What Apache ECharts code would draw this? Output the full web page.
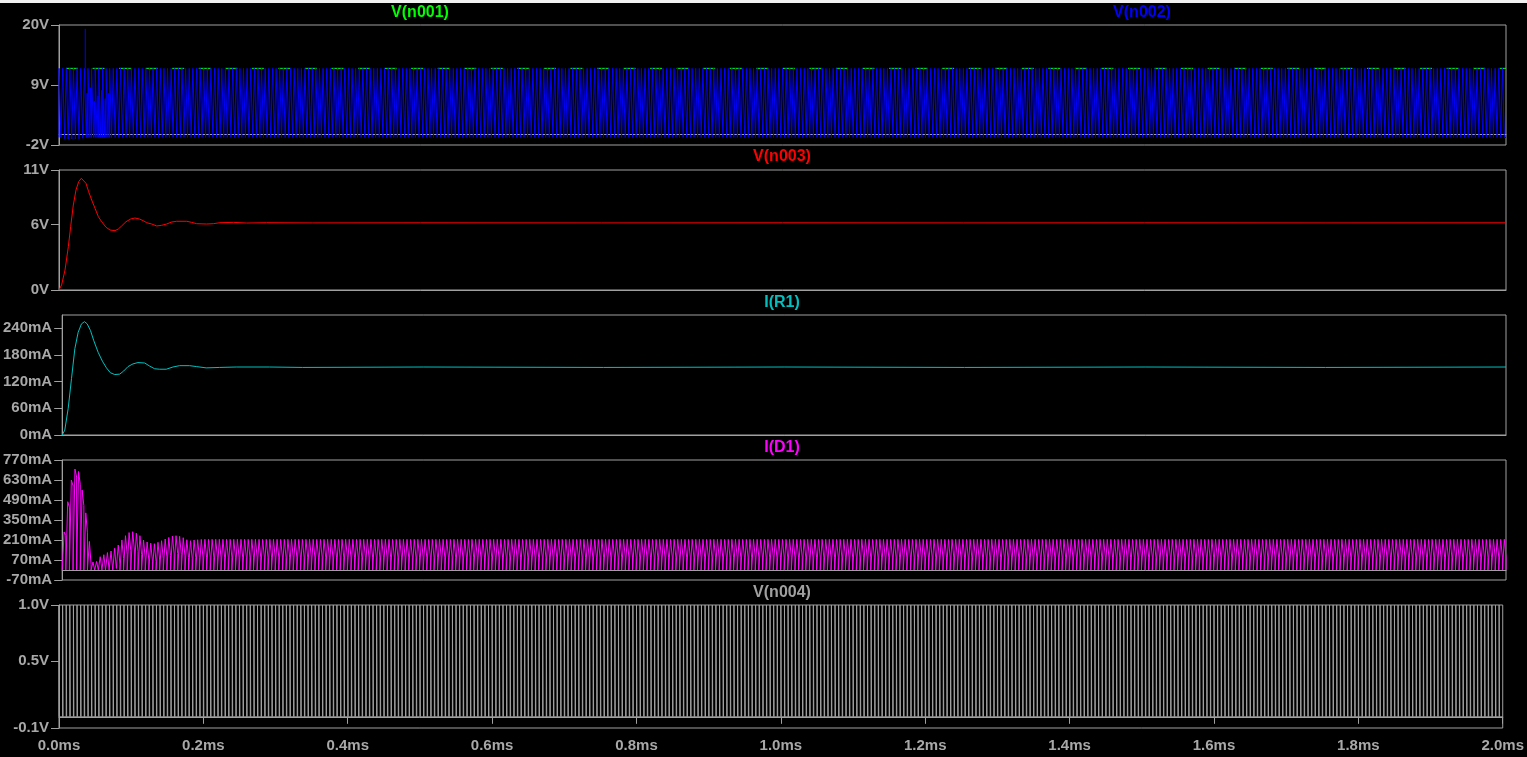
<!DOCTYPE html>
<html><head><meta charset="utf-8">
<script src="https://cdn.jsdelivr.net/npm/echarts@6/dist/echarts.min.js"></script>
<style>html,body{margin:0;padding:0;background:#000;overflow:hidden}#chart{width:1527px;height:757px}</style>
</head><body><div id="chart"></div>
<script>
// ---------- data ----------
// pane titles
const paneTitles = ['V(n001)', 'V(n002)', 'V(n003)', 'I(R1)', 'I(D1)', 'V(n004)'];
// x-axis (time, ms)
const timeMinMs = 0, timeMaxMs = 2.0, timeStepMs = 0.2;
// y-axis ranges and tick values
const yMins = [-2, 0, 0, -70, -0.1];
const yMaxs = [20, 11, 270, 770, 1.0];
const yTickValues = [
  [-2, 9, 20],
  [0, 6, 11],
  [0, 60, 120, 180, 240],
  [-70, 70, 210, 350, 490, 630, 770],
  [-0.1, 0.5, 1.0]
];
// switching clock (200 kHz, 400 cycles in 2 ms)
const switchPeriodMs = 0.005;
const switchCycles = 400;
const switchOnFraction = 0.53;
const gatePulseFraction = 0.12;
// V(n001): input supply level
const n001Level = 12.05;
// V(n002): switch node levels
const n002High = 12.05;
const n002Low = -0.62;
const n002LowStart = [-0.62, -0.8, -0.9, -0.9, -0.9, -0.85, -0.75, -0.65];
const n002IdleStart = [null, null, null, null, null, null, null, 7.5, 8.5, 6.0, 7.0, 8.0, 6.5, 7.5];
const n002SpikeT = 0.0363, n002SpikeV = 19.3;
// V(n003): output voltage
const tN003 = [0,0.0036,0.0083,0.0129,0.0161,0.0198,0.0235,0.0272,0.0309,0.0336,0.0373,0.041,0.0452,0.0498,0.0544,0.059,0.065,0.0705,0.0774,0.082,0.0866,0.0926,0.0991,0.105,0.111,0.1166,0.1212,0.1281,0.135,0.1419,0.1488,0.1557,0.1626,0.1765,0.1834,0.1903,0.2041,0.2133,0.2225,0.241,0.2594,0.287,0.35,0.5,0.75,1.0,1.25,1.5,1.75,2.0];
const vN003 = [0,0.46,1.83,3.97,5.80,7.79,9.17,9.93,10.24,10.15,9.78,9.01,8.25,7.49,6.72,6.26,5.75,5.50,5.44,5.59,5.87,6.26,6.51,6.60,6.51,6.35,6.17,6.05,5.87,5.93,6.05,6.23,6.30,6.30,6.20,6.08,6.05,6.08,6.17,6.20,6.14,6.17,6.15,6.16,6.15,6.16,6.15,6.16,6.15,6.16];
// I(R1): load current (mA)
const tR1 = [0,0.0036,0.0083,0.0129,0.0175,0.0221,0.0267,0.0309,0.0346,0.0392,0.0438,0.0498,0.0557,0.0613,0.0668,0.0728,0.0797,0.0852,0.0912,0.0981,0.105,0.1143,0.1212,0.1281,0.135,0.1442,0.1534,0.1626,0.1765,0.1857,0.1995,0.2179,0.241,0.287,0.3331,0.5,0.75,1.0,1.25,1.5,1.75,2.0];
const iR1 = [0,11,60,127,194,231,250,255,250,235,212,186,166,151,140,136,137,144,154,160,163,162,155,149,148,148,153,156,156,154,151,152,153,153,152,153,152,153,152,153,152,153];
// I(D1): diode current per switching cycle (mA), first cycles then steady
const d1PeakStart = [266,478,630,707,690,560,400,200,56,60,93,107,122,133,152,175,210,240,262,268,258,240,210,196,188,184,194,205,217,228,238,240,236,226,212,205,210,212,214,215,215];
const d1ValleyStart = [240,440,590,650,600,450,260,40,0,0,0,0,0,0,10,40,80,110,135,140,130,110,85,70,62,60,70,80,92,102,112,115,110,100,88,82,86,88,90,90,90];
const d1PeakSteady = 215, d1ValleySteady = 90;
// V(n004): gate pulse levels
const n004Low = 0, n004High = 1.0;

// ---------- build series data ----------
const n001Data = [[timeMinMs, n001Level], [timeMaxMs, n001Level]];
const n002Data = [], d1Data = [], n004Data = [];
for (let k = 0; k < switchCycles; k++) {
  const t0 = k * switchPeriodMs;
  const t1 = t0 + switchPeriodMs;
  const tOn = t0 + switchOnFraction * switchPeriodMs;
  const low = k < n002LowStart.length ? n002LowStart[k] : n002Low;
  n002Data.push([t0, low], [t0, n002High], [tOn, n002High], [tOn, low]);
  const idle = k < n002IdleStart.length ? n002IdleStart[k] : null;
  if (idle !== null) {
    const tI = tOn + 0.5 * (t1 - tOn);
    n002Data.push([tI, low], [tI, idle], [t1, idle], [t1, low]);
  }
  const pk = k < d1PeakStart.length ? d1PeakStart[k] : d1PeakSteady;
  const vl = k < d1ValleyStart.length ? d1ValleyStart[k] : d1ValleySteady;
  d1Data.push([t0, 0], [tOn, 0], [tOn, pk], [t1, vl], [t1, 0]);
  const tg = t0 + gatePulseFraction * switchPeriodMs;
  n004Data.push([t0, n004Low], [t0, n004High], [tg, n004High], [tg, n004Low]);
}
n002Data.push([timeMaxMs, n002Low]);
n004Data.push([timeMaxMs, n004Low]);
const n002Spike = [[n002SpikeT, n002High], [n002SpikeT, n002SpikeV]];
const n003Data = tN003.map((t, i) => [t, vN003[i]]);
const r1Data = tR1.map((t, i) => [t, iR1[i]]);

// ---------- chart ----------
const FRAME = '#a0a0a0';
const LABEL = '#a8a8a8';
const FONT = '"Liberation Sans", Arial, sans-serif';
const gridBoxes = [
  { top: 25, height: 120 },
  { top: 170, height: 120 },
  { top: 315, height: 120 },
  { top: 460, height: 120 },
  { top: 605, height: 123 }
];
const labelFmt = [
  v => Math.round(v) + 'V',
  v => Math.round(v) + 'V',
  v => Math.round(v) + 'mA',
  v => Math.round(v) + 'mA',
  v => v.toFixed(1) + 'V'
];

const grids = gridBoxes.map(g => ({
  left: 59, width: 1447, top: g.top, height: g.height,
  show: true, borderColor: FRAME, borderWidth: 1, backgroundColor: '#000'
}));
const xAxes = gridBoxes.map((g, i) => ({
  type: 'value', gridIndex: i, min: timeMinMs, max: timeMaxMs, interval: timeStepMs,
  axisLine: { show: true, lineStyle: { color: FRAME, width: 1 } },
  splitLine: { show: false },
  axisTick: { show: i === 4, inside: false, length: 7, lineStyle: { color: FRAME } },
  axisLabel: {
    show: i === 4, margin: 10, color: LABEL, fontWeight: 'bold', fontSize: 15, fontFamily: FONT,
    formatter: v => v.toFixed(1) + 'ms'
  }
}));
const yAxes = gridBoxes.map((g, i) => ({
  type: 'value', gridIndex: i, min: yMins[i], max: yMaxs[i],
  axisLine: { show: true, lineStyle: { color: FRAME, width: 1 } },
  splitLine: { show: false },
  axisTick: { show: true, length: 8, customValues: yTickValues[i], lineStyle: { color: FRAME } },
  axisLabel: {
    show: true, margin: 10, color: LABEL, fontWeight: 'bold', fontSize: 15, fontFamily: FONT,
    customValues: yTickValues[i], formatter: labelFmt[i]
  }
}));

function line(name, data, gi, color, extra) {
  return Object.assign({
    name, type: 'line', data, xAxisIndex: gi, yAxisIndex: gi,
    showSymbol: false, symbol: 'none', silent: true, animation: false,
    lineStyle: { color, width: 1 }, clip: true
  }, extra || {});
}

const series = [
  line('V(n001)', n001Data, 0, '#00ff00', { lineStyle: { color: '#00ff00', width: 1, type: [12, 14.55], dashOffset: 19.55 } }),
  line('V(n002)', n002Data, 0, '#0000ff'),
  line('V(n002) spike', n002Spike, 0, '#0000ff'),
  line('V(n003)', n003Data, 1, '#ff0000'),
  line('I(R1)', r1Data, 2, '#00c0c0'),
  line('I(D1)', d1Data, 3, '#ff00ff'),
  line('V(n004)', n004Data, 4, '#a0a0a0')
];

const titleSpecs = [
  { text: paneTitles[0], x: 420, y: 13, color: '#00ff00' },
  { text: paneTitles[1], x: 1142, y: 13, color: '#0000ff' },
  { text: paneTitles[2], x: 782, y: 157, color: '#ff0000' },
  { text: paneTitles[3], x: 782, y: 303, color: '#00c0c0' },
  { text: paneTitles[4], x: 782, y: 448, color: '#ff00ff' },
  { text: paneTitles[5], x: 782, y: 593, color: '#a0a0a0' }
];
const graphic = [
  { type: 'rect', left: 0, top: 0, z: 100, shape: { width: 1527, height: 3 }, style: { fill: '#f0f0f0' } }
].concat(titleSpecs.map(s => ({
  type: 'text', z: 100, x: s.x, y: s.y,
  style: { text: s.text, fill: s.color, font: 'bold 16px ' + FONT, align: 'center', verticalAlign: 'middle', textAlign: 'center', textVerticalAlign: 'middle' }
})));

const chart = echarts.init(document.getElementById('chart'), null, { renderer: 'canvas' });
chart.setOption({
  backgroundColor: '#000',
  animation: false,
  grid: grids,
  xAxis: xAxes,
  yAxis: yAxes,
  series,
  graphic
});
</script></body></html>
